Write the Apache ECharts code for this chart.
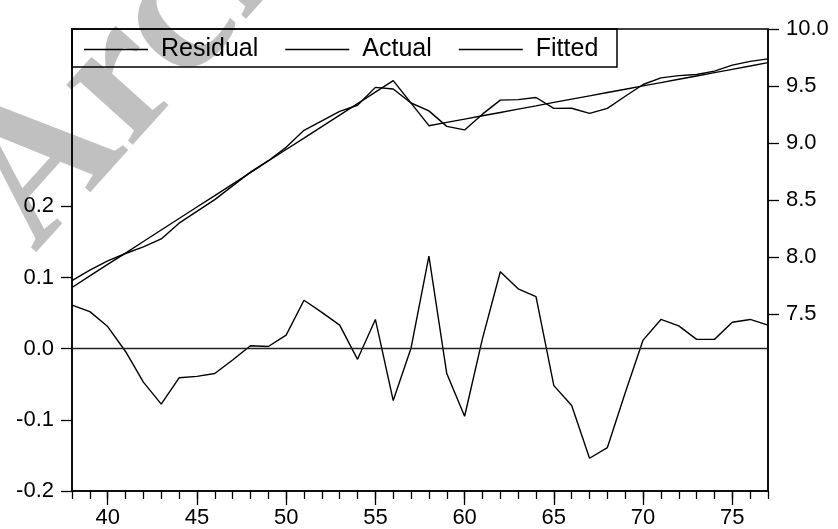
<!DOCTYPE html>
<html>
<head>
<meta charset="utf-8">
<script src="https://cdn.jsdelivr.net/npm/echarts@6/dist/echarts.min.js"></script>
<style>
html,body{margin:0;padding:0;background:#fff;}
#main{width:838px;height:529px;}
</style>
</head>
<body>
<div id="main"></div>
<script>
// Years (x axis)
const years = [38,39,40,41,42,43,44,45,46,47,48,49,50,51,52,53,54,55,56,57,
               58,59,60,61,62,63,64,65,66,67,68,69,70,71,72,73,74,75,76,77];
// Residual (left axis)
const residual = [0.061,0.052,0.031,-0.004,-0.047,-0.078,-0.041,-0.039,-0.035,-0.016,
                  0.004,0.003,0.019,0.068,0.051,0.033,-0.015,0.041,-0.073,0.001,
                  0.130,-0.035,-0.095,0.014,0.108,0.084,0.073,-0.052,-0.080,-0.154,
                  -0.139,-0.062,0.012,0.041,0.032,0.013,0.013,0.037,0.041,0.033];
// Actual (right axis)
const actual = [7.794,7.886,7.966,8.031,8.089,8.159,8.297,8.400,8.504,8.624,
                8.745,8.845,8.962,9.111,9.195,9.278,9.331,9.488,9.474,9.351,
                9.282,9.146,9.115,9.253,9.376,9.381,9.399,9.304,9.305,9.260,
                9.304,9.410,9.513,9.571,9.591,9.601,9.630,9.683,9.716,9.738];
// Fitted (right axis)
const fitted = [7.733,7.834,7.935,8.035,8.136,8.237,8.338,8.439,8.539,8.640,
                8.741,8.842,8.943,9.043,9.144,9.245,9.346,9.447,9.547,9.350,
                9.152,9.181,9.210,9.239,9.268,9.297,9.326,9.356,9.385,9.414,
                9.443,9.472,9.501,9.530,9.559,9.588,9.617,9.646,9.675,9.705];
// Tick labels
const xLabels = [40,45,50,55,60,65,70,75];
const leftTicks = [-0.2,-0.1,0.0,0.1,0.2];
const rightTicks = [7.5,8.0,8.5,9.0,9.5,10.0];
const seriesNames = ['Residual','Actual','Fitted'];

const pair = arr => years.map((y,i)=>[y,arr[i]]);
const FONT = 'Liberation Sans, Arial, sans-serif';
const lineW = 1.4;

const chart = echarts.init(document.getElementById('main'));
chart.setOption({
  animation:false,
  backgroundColor:'#ffffff',
  textStyle:{fontFamily:FONT},
  graphic:[
    {type:'text', z:-10, x:70, y:285, rotation:0.838,
     style:{text:'Archive', font:'bold 195px "Liberation Serif", serif', fill:'#c0c0c0',
            textAlign:'left', textVerticalAlign:'bottom'}},
    {type:'rect', z:100, shape:{x:72,y:29,width:545,height:38},
     style:{fill:'none', stroke:'#000', lineWidth:1.5}}
  ],
  grid:{left:72,right:70,top:29,bottom:37,show:true,borderColor:'#000',borderWidth:1.5,backgroundColor:'transparent'},
  legend:{
    data:seriesNames, left:84, top:37, padding:0,
    icon:'rect', itemWidth:64, itemHeight:1.6, itemGap:27,
    textStyle:{fontSize:25, color:'#000', fontFamily:FONT, padding:[0,0,0,8]},
    selectedMode:false
  },
  xAxis:[
    {type:'value', min:38, max:77, interval:1, position:'bottom',
     axisLine:{show:true,onZero:false,lineStyle:{color:'#000',width:1.5}},
     axisTick:{show:true,length:8,lineStyle:{color:'#000',width:1.3}},
     axisLabel:{show:false}, splitLine:{show:false}},
    {type:'value', min:38, max:77, position:'bottom', offset:0,
     axisLine:{show:false,onZero:false},
     axisTick:{show:true,customValues:xLabels,length:14,lineStyle:{color:'#000',width:1.3}},
     axisLabel:{show:true,customValues:xLabels,fontSize:22,color:'#000',margin:16,fontFamily:FONT},
     splitLine:{show:false}}
  ],
  yAxis:[
    {type:'value', min:-0.2, max:0.449, position:'left',
     axisLine:{show:true,onZero:false,lineStyle:{color:'#000',width:1.5}},
     axisTick:{show:true,customValues:leftTicks,length:11,lineStyle:{color:'#000',width:1.3}},
     axisLabel:{show:true,customValues:leftTicks,formatter:v=>v.toFixed(1),fontSize:22,color:'#000',margin:18,fontFamily:FONT},
     splitLine:{show:false}},
    {type:'value', min:5.948, max:10.0, position:'right',
     axisLine:{show:true,onZero:false,lineStyle:{color:'#000',width:1.5}},
     axisTick:{show:true,customValues:rightTicks,length:11,lineStyle:{color:'#000',width:1.3}},
     axisLabel:{show:true,customValues:rightTicks,formatter:v=>v.toFixed(1),fontSize:22,color:'#000',margin:18,fontFamily:FONT},
     splitLine:{show:false}}
  ],
  series:[
    {name:seriesNames[0], type:'line', xAxisIndex:0, yAxisIndex:0, data:pair(residual),
     symbol:'none', color:'#000', lineStyle:{color:'#000',width:lineW},
     markLine:{silent:true, symbol:'none', label:{show:false},
               lineStyle:{color:'#222',width:1.4,type:'solid'}, data:[{yAxis:0}]}},
    {name:seriesNames[1], type:'line', xAxisIndex:0, yAxisIndex:1, data:pair(actual),
     symbol:'none', color:'#000', lineStyle:{color:'#000',width:lineW}},
    {name:seriesNames[2], type:'line', xAxisIndex:0, yAxisIndex:1, data:pair(fitted),
     symbol:'none', color:'#000', lineStyle:{color:'#000',width:lineW}}
  ]
});
</script>
</body>
</html>
